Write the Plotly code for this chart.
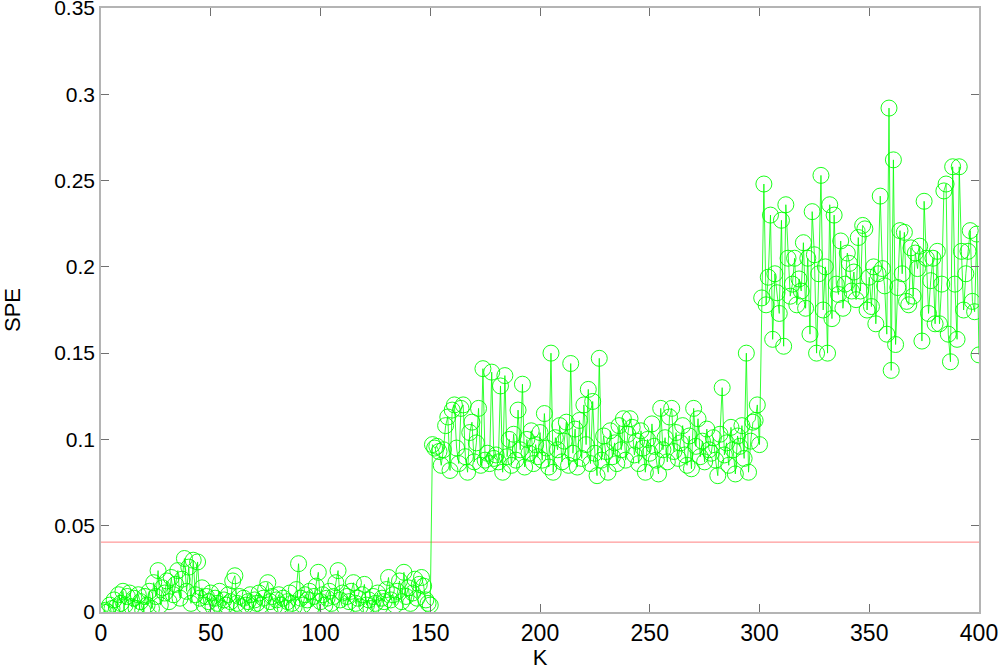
import plotly.graph_objects as go

# SPE statistic per sample K
spe_normal = [
    0.000, 0.001, 0.000, 0.004, 0.002, 0.007, 0.003, 0.010, 0.005, 0.012,
    0.004, 0.009, 0.011, 0.003, 0.008, 0.002, 0.010, 0.006, 0.001, 0.009,
    0.004, 0.012, 0.002, 0.017, 0.009, 0.024, 0.004, 0.014, 0.011, 0.018,
    0.006, 0.020, 0.010, 0.016, 0.024, 0.008, 0.019, 0.031, 0.012, 0.026,
    0.005, 0.030, 0.010, 0.029, 0.008, 0.014, 0.004, 0.009, 0.006, 0.011,
    0.003, 0.008, 0.005, 0.012, 0.002, 0.007, 0.004, 0.010, 0.006, 0.018,
    0.021, 0.005, 0.009, 0.003, 0.008, 0.004, 0.006, 0.010, 0.003, 0.007,
    0.005, 0.011, 0.004, 0.008, 0.013, 0.017, 0.006, 0.009, 0.003, 0.007,
    0.010, 0.004, 0.008, 0.002, 0.006, 0.011, 0.005, 0.003, 0.013, 0.028,
    0.008, 0.004, 0.010, 0.007, 0.012, 0.003, 0.009, 0.015, 0.023, 0.006,
    0.010, 0.004, 0.008, 0.012, 0.005, 0.009, 0.017, 0.024, 0.007, 0.011,
    0.003, 0.009, 0.006, 0.012, 0.017, 0.005, 0.008, 0.003, 0.010, 0.016,
    0.004, 0.007, 0.002, 0.009, 0.005, 0.011, 0.003, 0.008, 0.006, 0.013,
    0.020, 0.007, 0.010, 0.004, 0.012, 0.018, 0.006, 0.023, 0.009, 0.014,
    0.005, 0.011, 0.019, 0.008, 0.016, 0.020, 0.015, 0.007, 0.005, 0.004,
]
spe_fault1 = [
    0.097, 0.095, 0.096, 0.093, 0.085, 0.094, 0.108, 0.113, 0.082, 0.117,
    0.120, 0.095, 0.086, 0.118, 0.120, 0.090, 0.081, 0.104, 0.110, 0.087,
    0.098, 0.118, 0.085, 0.141, 0.088, 0.092, 0.086, 0.139, 0.089, 0.091,
    0.087, 0.131, 0.081, 0.137, 0.090, 0.100, 0.085, 0.103, 0.088, 0.117,
    0.094, 0.132, 0.084, 0.100, 0.092, 0.105, 0.086, 0.097, 0.090, 0.104,
    0.088, 0.115, 0.095, 0.084, 0.150, 0.081, 0.101, 0.094, 0.108, 0.087,
    0.099, 0.110, 0.085, 0.144, 0.092, 0.106, 0.084, 0.111, 0.089, 0.120,
    0.097, 0.129, 0.086, 0.122, 0.092, 0.079, 0.147, 0.088, 0.102, 0.093,
    0.081, 0.105, 0.090, 0.098, 0.086, 0.108, 0.094, 0.112, 0.088, 0.103,
    0.112, 0.107, 0.091, 0.099, 0.086, 0.105, 0.095, 0.081, 0.100, 0.092,
    0.109, 0.096, 0.088, 0.080, 0.118, 0.094, 0.101, 0.087, 0.113, 0.118,
    0.093, 0.104, 0.089, 0.098, 0.108, 0.091, 0.085, 0.102, 0.083, 0.118,
    0.096, 0.112, 0.090, 0.099, 0.087, 0.106, 0.094, 0.092, 0.101, 0.088,
    0.079, 0.103, 0.130, 0.091, 0.098, 0.085, 0.107, 0.094, 0.080, 0.102,
    0.096, 0.108, 0.089, 0.150, 0.081, 0.099, 0.110, 0.111, 0.120, 0.097,
]
spe_fault2 = [
    0.182, 0.248, 0.178, 0.194, 0.230, 0.158, 0.196, 0.185, 0.173, 0.227,
    0.154, 0.236, 0.205, 0.183, 0.190, 0.205, 0.178, 0.193, 0.186, 0.214,
    0.176, 0.205, 0.161, 0.232, 0.207, 0.150, 0.196, 0.253, 0.175, 0.200,
    0.150, 0.236, 0.170, 0.230, 0.190, 0.184, 0.215, 0.176, 0.190, 0.208,
    0.202, 0.186, 0.197, 0.181, 0.217, 0.186, 0.224, 0.222, 0.175, 0.194,
    0.177, 0.200, 0.167, 0.196, 0.241, 0.199, 0.189, 0.161, 0.292, 0.140,
    0.262, 0.155, 0.188, 0.221, 0.196, 0.220, 0.180, 0.178, 0.211, 0.183,
    0.208, 0.199, 0.212, 0.157, 0.238, 0.205, 0.173, 0.192, 0.205, 0.167,
    0.209, 0.167, 0.190, 0.244, 0.248, 0.161, 0.145, 0.258, 0.190, 0.158,
    0.258, 0.209, 0.175, 0.196, 0.209, 0.221, 0.180, 0.174, 0.219, 0.149,
]
spe = spe_normal + spe_fault1 + spe_fault2
k = list(range(1, len(spe) + 1))

spe_limit = 0.0405
limit_x = [0, 400]

x_ticks = [0, 50, 100, 150, 200, 250, 300, 350, 400]
y_ticks = [0, 0.05, 0.1, 0.15, 0.2, 0.25, 0.3, 0.35]
y_ticklabels = ['0', '0.05', '0.1', '0.15', '0.2', '0.25', '0.3', '0.35']

fig = go.Figure()

fig.add_trace(go.Scatter(
    x=limit_x,
    y=[spe_limit, spe_limit],
    mode='lines',
    line=dict(color='#ff8080', width=1),
    showlegend=False,
))

fig.add_trace(go.Scatter(
    x=k,
    y=spe,
    mode='lines+markers',
    line=dict(color='#00ff00', width=0.8),
    marker=dict(symbol='circle-open', size=16, color='#00ff00',
                line=dict(width=0.9, color='#00ff00')),
    showlegend=False,
))

font = 'Liberation Sans, Arial'
axis_style = dict(
    showline=True, linecolor='#b4b4b4', linewidth=1.5, mirror='ticks',
    ticks='inside', ticklen=8, tickcolor='#707070',
    showgrid=False, zeroline=False,
    ticklabeloverflow='allow', automargin=False,
)

fig.update_layout(
    width=1000, height=670,
    margin=dict(l=101, r=21, t=8, b=58),
    plot_bgcolor='white',
    paper_bgcolor='white',
    xaxis=dict(range=[0, 400], tickvals=x_ticks,
               tickfont=dict(family=font, size=23, color='black'),
               title=dict(text='K', standoff=2,
                          font=dict(family=font, size=22, color='black')),
               **axis_style),
    yaxis=dict(range=[0, 0.35], tickvals=y_ticks, ticktext=y_ticklabels,
               tickfont=dict(family=font, size=21, color='black'),
               title=dict(text='SPE', standoff=28,
                          font=dict(family=font, size=22, color='black')),
               **axis_style),
)

fig.write_html("out.html", config={'displayModeBar': False},
               post_script="document.body.style.margin='0';")
